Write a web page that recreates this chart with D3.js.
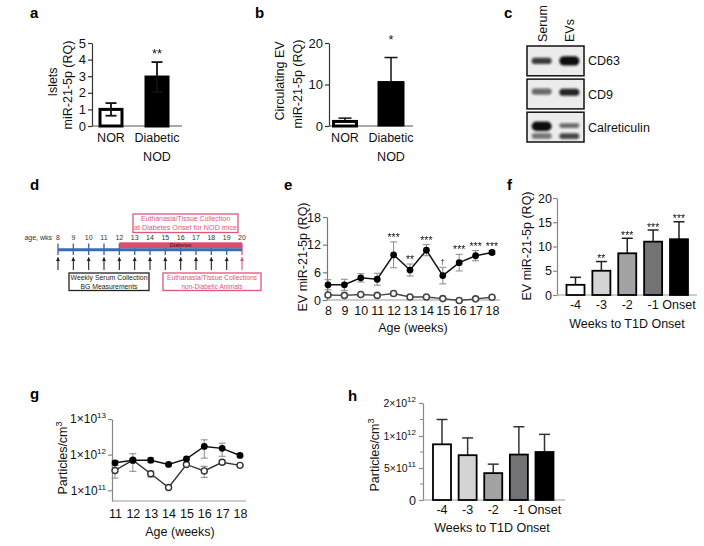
<!DOCTYPE html>
<html><head><meta charset="utf-8">
<script src="https://cdn.jsdelivr.net/npm/d3@7/dist/d3.min.js"></script>
<style>html,body{margin:0;padding:0;background:#fff;} svg{display:block;} .sig{opacity:0.99;}</style>
</head><body>
<svg id="fig" width="704" height="546"></svg>
<script>
// ================= DATA =================
// a: islets miR-21-5p
const aCategories = ["NOR", "Diabetic NOD"];
const aValues = [1.0, 2.95];
const aErrors = [0.38, 0.9];
const aSig = ["", "**"];
const aTicks = [0, 1, 2, 3, 4, 5];

// b: circulating EV miR-21-5p
const bCategories = ["NOR", "Diabetic NOD"];
const bValues = [1.1, 10.7];
const bErrors = [0.8, 5.8];
const bSig = ["", "*"];
const bTicks = [0, 10, 20];

// c: western blot
const blotLanes = ["Serum", "EVs"];
const blotRows = ["CD63", "CD9", "Calreticulin"];
const blotBandRow = ["CD63", "CD63", "CD9", "CD9", "Calreticulin", "Calreticulin", "Calreticulin", "Calreticulin"];
const blotBandLane = ["Serum", "EVs", "Serum", "EVs", "Serum", "Serum", "EVs", "EVs"];
const blotBandIntensity = [0.8, 1.0, 0.6, 0.9, 1.0, 0.55, 0.6, 0.75];
const blotBandLevel = [0.5, 0.5, 0.42, 0.44, 0.47, 0.8, 0.45, 0.8];
const blotBandWeight = [0.8, 1.6, 0.8, 1.0, 1.6, 0.6, 0.45, 0.7];

// d: timeline
const dWeeks = [8, 9, 10, 11, 12, 13, 14, 15, 16, 17, 18, 19, 20];
const dDiabetesStart = 12;
const dTopBox = ["Euthanasia/Tissue Collection", "at  Diabetes Onset for NOD mice"];
const dLeftBox = ["Weekly Serum Collection", "BG Measurements"];
const dRightBox = ["Euthanasia/Tissue Collections", "non-Diabetic Animals"];

// e: EV miR-21-5p by age
const eWeeks = [8, 9, 10, 11, 12, 13, 14, 15, 16, 17, 18];
const eDiabetic = [3.3, 3.3, 4.8, 4.5, 9.8, 6.5, 10.8, 5.3, 8.1, 9.6, 10.3];
const eDiabeticErr = [1.1, 1.2, 0.9, 1.3, 2.8, 1.3, 1.2, 1.8, 1.8, 1.1, 0.4];
const eNOR = [1.1, 1.0, 1.2, 1.0, 1.4, 0.65, 0.65, 0.3, -0.1, 0.25, 0.6];
const eNORErr = [0.3, 0.3, 0.3, 0.3, 0.3, 0.2, 0.2, 0.2, 0.2, 0.2, 0.2];
const eSig = ["", "", "", "", "***", "**", "***", "†", "***", "***", "***"];
const eTicks = [0, 6, 12, 18];

// f: EV miR-21-5p weeks to onset
const fCategories = ["-4", "-3", "-2", "-1", "Onset"];
const fValues = [2.1, 5.0, 8.6, 11.0, 11.5];
const fErrors = [1.55, 1.9, 3.1, 2.4, 3.6];
const fSig = ["", "**", "***", "***", "***"];
const fTicks = [0, 5, 10, 15, 20];

// g: particles by age (log)
const gWeeks = [11, 12, 13, 14, 15, 16, 17, 18];
const gDiabetic = [5.9e11, 7.0e11, 7.0e11, 5.3e11, 7.6e11, 1.7e12, 1.5e12, 9.5e11];
const gDiabeticErr = [1.0e11, 3.6e11, 1.1e11, 0.5e11, 0.6e11, 0.9e12, 0.6e12, 0.8e11];
const gNOR = [3.6e11, 7.0e11, 2.9e11, 1.2e11, 5.3e11, 3.5e11, 6.1e11, 5.0e11];
const gNORErr = [1.4e11, 0, 0.55e11, 0.1e11, 0.3e11, 1.2e11, 0.8e11, 0.3e11];
const gTicks = [1e11, 1e12, 1e13];

// h: particles weeks to onset
const hCategories = ["-4", "-3", "-2", "-1", "Onset"];
const hValues = [0.87e12, 0.70e12, 0.42e12, 0.71e12, 0.75e12];
const hErrors = [0.63e12, 0.27e12, 0.14e12, 0.57e12, 0.30e12];
const hTicks = [0, 5e11, 1e12, 2e12];
const hMinorTicks = [2.5e11, 7.5e11, 1.5e12];

// ================= DRAW =================
const FONT = '"Liberation Sans", Arial, Helvetica, sans-serif';
const INK = "#111";
const svg = d3.select("#fig").attr("font-family", FONT);
svg.append("rect").attr("width", 704).attr("height", 546).attr("fill", "#fff");
const defs = svg.append("defs");
defs.append("filter").attr("id", "blur").attr("x", "-50%").attr("y", "-100%").attr("width", "200%").attr("height", "300%")
  .append("feGaussianBlur").attr("stdDeviation", 1.3);
function marker(id, color) {
  defs.append("marker").attr("id", id).attr("viewBox", "0 0 10 10").attr("refX", 9).attr("refY", 5)
    .attr("markerWidth", 4).attr("markerHeight", 4).attr("orient", "auto")
    .append("path").attr("d", "M0,0 L10,5 L0,10 z").attr("fill", color);
}
marker("arrBlack", "#222");
marker("arrPink", "#e0557a");
const sigLayer = () => svg.append("g").attr("class", "sig");

function panelLetter(t, x, y) {
  svg.append("text").attr("x", x).attr("y", y).attr("font-size", 15).attr("font-weight", "bold").attr("fill", "#000").text(t);
}
function rotLabel(x, y, size) {
  return svg.append("text").attr("transform", `translate(${x},${y}) rotate(-90)`)
    .attr("text-anchor", "middle").attr("font-size", size).attr("fill", INK);
}
function styleAxis(sel, size, color) {
  sel.select(".domain").attr("stroke", color).attr("stroke-width", 1.2);
  sel.selectAll(".tick line").attr("stroke", color).attr("stroke-width", 1.2);
  sel.selectAll(".tick text").attr("font-size", size).attr("fill", INK).attr("font-family", FONT);
}
function hLine(x1, x2, y, color, w) {
  svg.append("line").attr("x1", x1).attr("x2", x2).attr("y1", y).attr("y2", y).attr("stroke", color).attr("stroke-width", w || 1.2);
}
function errBars(cats, vals, errs, x, y, o) {
  const g = svg.append("g").attr("stroke", o.color).attr("stroke-width", o.w).attr("fill", "none");
  cats.forEach((c, i) => {
    if (!errs[i]) return;
    const cx = x(c), top = y(vals[i] + errs[i]);
    const bot = o.up ? y(vals[i]) : y(Math.max(vals[i] - errs[i], o.min === undefined ? -Infinity : o.min));
    g.append("line").attr("x1", cx).attr("x2", cx).attr("y1", top).attr("y2", bot);
    g.append("line").attr("x1", cx - o.cap / 2).attr("x2", cx + o.cap / 2).attr("y1", top).attr("y2", top);
    if (!o.up) g.append("line").attr("x1", cx - o.cap / 2).attr("x2", cx + o.cap / 2).attr("y1", bot).attr("y2", bot);
  });
}
function sciLabel(sel, mainSize, supSize) {
  sel.each(function (d) {
    const t = d3.select(this);
    t.text(null);
    if (d === 0) { t.text("0"); return; }
    const e = Math.floor(Math.log10(d) + 1e-9);
    const m = Math.round(d / Math.pow(10, e));
    t.append("tspan").text(m + "×10").attr("font-size", mainSize);
    t.append("tspan").attr("dy", -5).attr("font-size", supSize).text(e);
  });
}
const intFmt = d3.format("d");

// ---------- Panel a ----------
(function () {
  panelLetter("a", 30, 18);
  const y = d3.scaleLinear().domain([0, 5]).range([126, 43]);
  const x = d3.scalePoint().domain(aCategories).range([111, 157]);
  const ax = svg.append("g").attr("transform", "translate(92,0)")
    .call(d3.axisLeft(y).tickValues(aTicks).tickFormat(intFmt).tickSize(4).tickSizeOuter(0).tickPadding(2));
  styleAxis(ax, 13, "#333");
  hLine(92, 182, y(0), "#555");
  svg.append("g").selectAll("rect").data(aCategories).join("rect")
    .attr("x", c => x(c) - 11).attr("width", 22)
    .attr("y", (c, i) => y(aValues[i])).attr("height", (c, i) => y(0) - y(aValues[i]))
    .attr("fill", (c, i) => i === 0 ? "#fff" : "#000").attr("stroke", "#000").attr("stroke-width", 3);
  errBars(aCategories, aValues, aErrors, x, y, { color: "#111", w: 1.8, cap: 11, up: false });
  const sg = sigLayer();
  aCategories.forEach((c, i) => {
    const t = svg.append("text").attr("text-anchor", "middle").attr("font-size", 12.5).attr("fill", INK);
    c.split(" ").forEach((w, k) => t.append("tspan").attr("x", x(c)).attr("y", 142 + k * 18.5).text(w));
    if (aSig[i]) sg.append("text").attr("x", x(c)).attr("y", y(aValues[i] + aErrors[i]) - 4.5)
      .attr("text-anchor", "middle").attr("font-size", 13).attr("fill", INK).text(aSig[i]);
  });
  rotLabel(56.5, 82, 12.5).text("Islets");
  rotLabel(72, 85, 12.5).text("miR-21-5p (RQ)");
})();

// ---------- Panel b ----------
(function () {
  panelLetter("b", 255, 18);
  const y = d3.scaleLinear().domain([0, 20]).range([126, 43]);
  const x = d3.scalePoint().domain(bCategories).range([345, 391]);
  const ax = svg.append("g").attr("transform", "translate(329,0)")
    .call(d3.axisLeft(y).tickValues(bTicks).tickFormat(intFmt).tickSize(4).tickSizeOuter(0).tickPadding(2));
  styleAxis(ax, 13, "#333");
  hLine(329, 413, y(0), "#555");
  errBars(bCategories, bValues, bErrors, x, y, { color: "#111", w: 1.5, cap: 13, up: true });
  svg.append("g").selectAll("rect").data(bCategories).join("rect")
    .attr("x", (c, i) => x(c) - (i === 0 ? 11.5 : 13)).attr("width", (c, i) => i === 0 ? 23 : 26)
    .attr("y", (c, i) => y(bValues[i])).attr("height", (c, i) => y(0) - y(bValues[i]))
    .attr("fill", (c, i) => i === 0 ? "#fff" : "#000").attr("stroke", "#000").attr("stroke-width", (c, i) => i === 0 ? 3 : 1);
  const sg = sigLayer();
  bCategories.forEach((c, i) => {
    const t = svg.append("text").attr("text-anchor", "middle").attr("font-size", 12.5).attr("fill", INK);
    c.split(" ").forEach((w, k) => t.append("tspan").attr("x", x(c)).attr("y", 142 + k * 18.5).text(w));
    if (bSig[i]) sg.append("text").attr("x", x(c)).attr("y", y(20) + 1)
      .attr("text-anchor", "middle").attr("font-size", 13).attr("fill", INK).text(bSig[i]);
  });
  rotLabel(284, 81, 12.5).text("Circulating EV");
  rotLabel(302, 84, 12.5).text("miR-21-5p (RQ)");
})();

// ---------- Panel c ----------
(function () {
  panelLetter("c", 504, 18);
  const lx = d3.scaleBand().domain(blotLanes).range([527, 584]).padding(0.06);
  const ry = d3.scaleBand().domain(blotRows).range([46, 142]).paddingInner(0.1);
  blotRows.forEach(r => {
    svg.append("rect").attr("x", 527).attr("y", ry(r)).attr("width", 57).attr("height", ry.bandwidth())
      .attr("fill", "#ececec").attr("stroke", "#111").attr("stroke-width", 1.5);
    svg.append("text").attr("x", 588).attr("y", ry(r) + ry.bandwidth() / 2 + 4.5).attr("font-size", 12.5).attr("fill", INK).text(r);
  });
  const bands = svg.append("g").attr("filter", "url(#blur)");
  blotBandRow.forEach((r, i) => {
    const l = blotBandLane[i];
    const h = 3 + blotBandWeight[i] * 4;
    bands.append("rect")
      .attr("x", lx(l) + 3).attr("width", lx.bandwidth() - 6)
      .attr("y", ry(r) + ry.bandwidth() * blotBandLevel[i] - h / 2).attr("height", h)
      .attr("rx", h / 2)
      .attr("fill", "#111").attr("fill-opacity", blotBandIntensity[i]);
  });
  blotLanes.forEach((l, i) => {
    svg.append("text").attr("transform", `translate(${lx(l) + lx.bandwidth() / 2 + 5},42) rotate(-90)`)
      .attr("font-size", 12.5).attr("fill", INK).text(l);
  });
})();

// ---------- Panel d ----------
(function () {
  panelLetter("d", 30, 190);
  const x = d3.scaleLinear().domain([8, 20]).range([58, 242]);
  const pink = "#e0557a", blue = "#3a6cb2";
  svg.append("text").attr("x", 52).attr("y", 240).attr("text-anchor", "end").attr("font-size", 7).attr("fill", "#333").text("age, wks");
  svg.append("g").selectAll("text").data(dWeeks).join("text")
    .attr("x", d => x(d)).attr("y", 240).attr("text-anchor", "middle").attr("font-size", 7).attr("fill", "#333").text(d => d);
  svg.append("g").selectAll("line").data(dWeeks).join("line")
    .attr("x1", d => x(d)).attr("x2", d => x(d)).attr("y1", 243.5).attr("y2", 255)
    .attr("stroke", d => d === 20 ? pink : blue).attr("stroke-width", 1.4);
  svg.append("rect").attr("x", x(dDiabetesStart)).attr("y", 242.3).attr("width", x(20) - x(dDiabetesStart)).attr("height", 6)
    .attr("fill", "#d9506f");
  svg.append("text").attr("x", (x(dDiabetesStart) + x(20)) / 2).attr("y", 247.3).attr("text-anchor", "middle")
    .attr("font-size", 5.5).attr("fill", "#4a0a1a").text("Diabetes");
  hLine(x(8), x(20), 249.7, blue, 3);
  svg.append("g").selectAll("line").data(dWeeks).join("line")
    .attr("x1", d => x(d)).attr("x2", d => x(d)).attr("y1", 270).attr("y2", 257.5)
    .attr("stroke", d => d === 20 ? pink : "#222").attr("stroke-width", 1.1)
    .attr("marker-end", d => d === 20 ? "url(#arrPink)" : "url(#arrBlack)");
  function box(lines, x0, y0, w, h, color, lens) {
    svg.append("rect").attr("x", x0).attr("y", y0).attr("width", w).attr("height", h)
      .attr("fill", "#fff").attr("stroke", color).attr("stroke-width", 1.3);
    lines.forEach((t, k) => svg.append("text").attr("x", x0 + w / 2).attr("y", y0 + 7.3 + k * 8.3)
      .attr("text-anchor", "middle").attr("font-size", 7.6).attr("fill", color)
      .attr("textLength", lens[k]).attr("lengthAdjust", "spacingAndGlyphs").text(t));
  }
  box(dTopBox, 133, 214, 105, 18.5, pink, [89, 103]);
  box(dLeftBox, 69, 273, 80, 17.5, "#222", [77, 57]);
  box(dRightBox, 163, 273, 98, 17.5, pink, [90, 61]);
})();

// ---------- Panel e ----------
(function () {
  panelLetter("e", 284, 190);
  const x = d3.scaleLinear().domain([8, 18]).range([328, 492]);
  const y = d3.scaleLinear().domain([0, 18]).range([300, 217]);
  const ax = svg.append("g").attr("transform", "translate(327,0)")
    .call(d3.axisLeft(y).tickValues(eTicks).tickFormat(intFmt).tickSize(4).tickSizeOuter(0).tickPadding(2));
  styleAxis(ax, 12.5, "#777");
  hLine(327, 500, y(0), "#999");
  const bx = svg.append("g").attr("transform", `translate(0,${y(0)})`)
    .call(d3.axisBottom(x).tickValues(eWeeks).tickSize(0).tickFormat(intFmt));
  bx.select(".domain").remove();
  bx.selectAll(".tick text").attr("y", 15).attr("dy", 0).attr("font-size", 12.5).attr("fill", INK).attr("font-family", FONT);
  errBars(eWeeks, eDiabetic, eDiabeticErr, x, y, { color: "#888", w: 1, cap: 7, up: false });
  errBars(eWeeks, eNOR, eNORErr, x, y, { color: "#888", w: 1, cap: 6, up: false });
  const line = d3.line().x((d, i) => x(eWeeks[i])).y(d => y(d));
  svg.append("path").attr("d", line(eNOR)).attr("fill", "none").attr("stroke", "#444").attr("stroke-width", 1.4);
  svg.append("path").attr("d", line(eDiabetic)).attr("fill", "none").attr("stroke", "#111").attr("stroke-width", 1.5);
  svg.append("g").selectAll("circle").data(eNOR).join("circle")
    .attr("cx", (d, i) => x(eWeeks[i])).attr("cy", d => y(d)).attr("r", 3)
    .attr("fill", "#fff").attr("stroke", "#444").attr("stroke-width", 1.6);
  svg.append("g").selectAll("circle").data(eDiabetic).join("circle")
    .attr("cx", (d, i) => x(eWeeks[i])).attr("cy", d => y(d)).attr("r", 3.4).attr("fill", "#000");
  const sg = sigLayer();
  eSig.forEach((s, i) => {
    if (!s) return;
    sg.append("text").attr("x", x(eWeeks[i])).attr("y", y(eDiabetic[i] + eDiabeticErr[i]) - (s === "†" ? 3 : 1))
      .attr("text-anchor", "middle").attr("font-size", s === "†" ? 8 : 10.5).attr("fill", INK).text(s);
  });
  rotLabel(307, 257, 12.5).text("EV miR-21-5p (RQ)");
  svg.append("text").attr("x", 413).attr("y", 332).attr("text-anchor", "middle").attr("font-size", 12.5).attr("fill", INK).text("Age (weeks)");
})();

// ---------- Panel f ----------
const greyFills = ["#ffffff", "#d4d4d4", "#a3a3a6", "#737376", "#000000"];
(function () {
  panelLetter("f", 507, 190);
  const y = d3.scaleLinear().domain([0, 20]).range([295, 198]);
  const x = d3.scalePoint().domain(fCategories).range([575.5, 679]);
  const ax = svg.append("g").attr("transform", "translate(557,0)")
    .call(d3.axisLeft(y).tickValues(fTicks).tickFormat(intFmt).tickSize(4).tickSizeOuter(0).tickPadding(1));
  styleAxis(ax, 12.5, "#888");
  hLine(557, 697, y(0), "#999");
  errBars(fCategories, fValues, fErrors, x, y, { color: "#222", w: 1.5, cap: 11, up: true });
  svg.append("g").selectAll("rect").data(fCategories).join("rect")
    .attr("x", c => x(c) - 9).attr("width", 18)
    .attr("y", (c, i) => y(fValues[i])).attr("height", (c, i) => y(0) - y(fValues[i]))
    .attr("fill", (c, i) => greyFills[i]).attr("stroke", "#000").attr("stroke-width", 1.8);
  const sg = sigLayer();
  fCategories.forEach((c, i) => {
    svg.append("text").attr("x", x(c)).attr("y", 309).attr("text-anchor", "middle").attr("font-size", 12.5).attr("fill", INK).text(c);
    if (fSig[i]) sg.append("text").attr("x", x(c)).attr("y", y(fValues[i] + fErrors[i]) + 0.5)
      .attr("text-anchor", "middle").attr("font-size", 10.5).attr("fill", INK).text(fSig[i]);
  });
  rotLabel(531, 246, 12.5).text("EV miR-21-5p (RQ)");
  svg.append("text").attr("x", 627).attr("y", 328).attr("text-anchor", "middle").attr("font-size", 12.5).attr("fill", INK).text("Weeks to T1D Onset");
})();

// ---------- Panel g ----------
(function () {
  panelLetter("g", 30, 399);
  const x = d3.scaleLinear().domain([11, 18]).range([115, 240]);
  const y = d3.scaleLog().domain([5e10, 1e13]).range([501, 419]);
  const ax = svg.append("g").attr("transform", "translate(112,0)")
    .call(d3.axisLeft(y).tickValues(gTicks).tickSize(4).tickSizeOuter(0).tickPadding(2));
  styleAxis(ax, 12, "#888");
  sciLabel(ax.selectAll(".tick text"), 12, 8);
  hLine(112, 246, 501, "#999");
  const bx = svg.append("g").attr("transform", "translate(0,501)")
    .call(d3.axisBottom(x).tickValues(gWeeks).tickSize(0).tickFormat(intFmt));
  bx.select(".domain").remove();
  bx.selectAll(".tick text").attr("y", 17).attr("dy", 0).attr("font-size", 12.5).attr("fill", INK).attr("font-family", FONT);
  errBars(gWeeks, gDiabetic, gDiabeticErr, x, y, { color: "#888", w: 1, cap: 7, up: false, min: 5e10 });
  errBars(gWeeks, gNOR, gNORErr, x, y, { color: "#888", w: 1, cap: 7, up: false, min: 5e10 });
  const line = d3.line().x((d, i) => x(gWeeks[i])).y(d => y(d));
  svg.append("path").attr("d", line(gNOR)).attr("fill", "none").attr("stroke", "#333").attr("stroke-width", 1.4);
  svg.append("path").attr("d", line(gDiabetic)).attr("fill", "none").attr("stroke", "#111").attr("stroke-width", 1.5);
  svg.append("g").selectAll("circle").data(gNOR).join("circle")
    .attr("cx", (d, i) => x(gWeeks[i])).attr("cy", d => y(d)).attr("r", 3)
    .attr("fill", "#fff").attr("stroke", "#333").attr("stroke-width", 1.4);
  svg.append("g").selectAll("circle").data(gDiabetic).join("circle")
    .attr("cx", (d, i) => x(gWeeks[i])).attr("cy", d => y(d)).attr("r", 3.4).attr("fill", "#000");
  const t = rotLabel(67, 458, 12.5);
  t.append("tspan").text("Particles/cm");
  t.append("tspan").attr("dy", -5).attr("font-size", 9).text("3");
  svg.append("text").attr("x", 180).attr("y", 536).attr("text-anchor", "middle").attr("font-size", 12.5).attr("fill", INK).text("Age (weeks)");
})();

// ---------- Panel h ----------
(function () {
  panelLetter("h", 348, 401);
  const y = d3.scaleLinear().domain(hTicks).range([500, 468, 436, 403]);
  const x = d3.scalePoint().domain(hCategories).range([442, 544.5]);
  const ax = svg.append("g").attr("transform", "translate(423,0)")
    .call(d3.axisLeft(y).tickValues(hTicks).tickSize(4).tickSizeOuter(0).tickPadding(3));
  styleAxis(ax, 10.5, "#888");
  sciLabel(ax.selectAll(".tick text"), 10.5, 8);
  ax.selectAll(".tick text").filter(d => d === 0).attr("font-size", 12.5);
  svg.append("g").selectAll("line").data(hMinorTicks).join("line")
    .attr("x1", 420).attr("x2", 423).attr("y1", d => y(d)).attr("y2", d => y(d)).attr("stroke", "#888").attr("stroke-width", 1);
  hLine(423, 565, y(0), "#999");
  errBars(hCategories, hValues, hErrors, x, y, { color: "#333", w: 1.5, cap: 11, up: true });
  svg.append("g").selectAll("rect").data(hCategories).join("rect")
    .attr("x", c => x(c) - 9).attr("width", 18)
    .attr("y", (c, i) => y(hValues[i])).attr("height", (c, i) => y(0) - y(hValues[i]))
    .attr("fill", (c, i) => greyFills[i]).attr("stroke", "#000").attr("stroke-width", 1.8);
  hCategories.forEach(c => {
    svg.append("text").attr("x", x(c)).attr("y", 514).attr("text-anchor", "middle").attr("font-size", 12.5).attr("fill", INK).text(c);
  });
  const t = rotLabel(379, 455, 12.5);
  t.append("tspan").text("Particles/cm");
  t.append("tspan").attr("dy", -5).attr("font-size", 9).text("3");
  svg.append("text").attr("x", 492).attr("y", 532).attr("text-anchor", "middle").attr("font-size", 12.5).attr("fill", INK).text("Weeks to T1D Onset");
})();
</script>
</body></html>
